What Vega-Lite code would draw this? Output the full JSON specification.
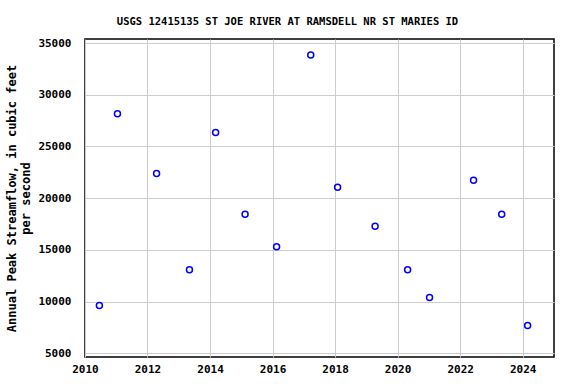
{
  "$schema": "https://vega.github.io/schema/vega-lite/v6.json",
  "width": 469,
  "height": 318,
  "autosize": {"type": "none"},
  "padding": {"left": 85, "top": 39, "right": 22, "bottom": 27},
  "background": "white",
  "title": {
    "text": "USGS 12415135 ST JOE RIVER AT RAMSDELL NR ST MARIES ID",
    "font": "DejaVu Sans Mono",
    "fontSize": 10.5,
    "fontWeight": "bold",
    "color": "black",
    "anchor": "middle",
    "dx": -32,
    "offset": 10
  },
  "config": {
    "view": {"stroke": "black", "strokeWidth": 1.5},
    "axis": {
      "labelFont": "DejaVu Sans Mono",
      "labelFontSize": 11,
      "labelFontWeight": "bold",
      "labelColor": "black",
      "titleFont": "DejaVu Sans Mono",
      "titleFontSize": 12,
      "titleFontWeight": "bold",
      "titleColor": "black",
      "gridColor": "#cccccc",
      "gridWidth": 1,
      "domain": false,
      "ticks": false
    }
  },
  "data": {
    "values": [
      {"date": "2010-06-18", "peak": 9610},
      {"date": "2011-01-15", "peak": 28160},
      {"date": "2012-04-16", "peak": 22390},
      {"date": "2013-05-05", "peak": 13065},
      {"date": "2014-03-07", "peak": 26355},
      {"date": "2015-02-14", "peak": 18450},
      {"date": "2016-02-17", "peak": 15290},
      {"date": "2017-03-22", "peak": 33840},
      {"date": "2018-01-30", "peak": 21065},
      {"date": "2019-04-13", "peak": 17290},
      {"date": "2020-04-27", "peak": 13065},
      {"date": "2021-01-08", "peak": 10390},
      {"date": "2022-06-06", "peak": 21740},
      {"date": "2023-05-01", "peak": 18450},
      {"date": "2024-02-28", "peak": 7680}
    ]
  },
  "mark": {"type": "point", "shape": "circle", "filled": false, "color": "blue", "strokeWidth": 1.5, "size": 36, "opacity": 1},
  "encoding": {
    "x": {
      "field": "date",
      "type": "temporal",
      "scale": {"domain": ["2010-01-01", "2025-01-01"]},
      "axis": {
        "title": null,
        "format": "%Y",
        "tickCount": {"interval": "year", "step": 2},
        "labelPadding": 6,
        "labelFlush": false
      }
    },
    "y": {
      "field": "peak",
      "type": "quantitative",
      "scale": {"domain": [4640, 35390], "nice": false, "zero": false},
      "axis": {
        "title": ["Annual Peak Streamflow, in cubic feet", "per second"],
        "values": [5000, 10000, 15000, 20000, 25000, 30000, 35000],
        "format": "d",
        "labelPadding": 14,
        "titlePadding": 5,
        "labelFlush": false
      }
    }
  }
}
